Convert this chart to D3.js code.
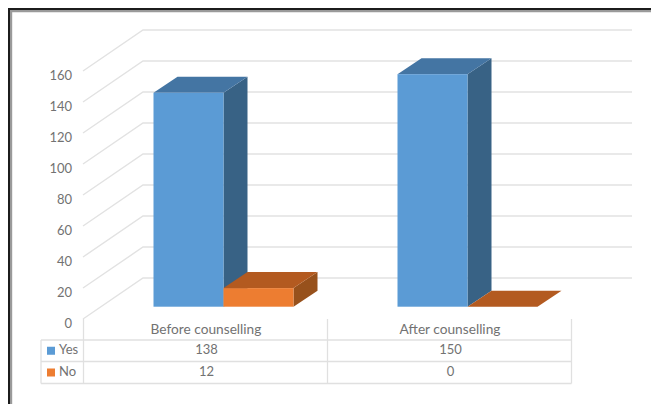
<!DOCTYPE html>
<html>
<head>
<meta charset="utf-8">
<script src="https://cdn.jsdelivr.net/npm/d3@7/dist/d3.min.js"></script>
<style>
html,body{margin:0;padding:0;background:#fff}
svg{display:block}
text{font-family:Lato,"Open Sans",sans-serif;fill:#727272}
</style>
</head>
<body>
<script>
const categories = ["Before counselling", "After counselling"];
const seriesNames = ["Yes", "No"];
const yesValues = [138, 150];
const noValues = [12, 0];
const tickValues = [0, 20, 40, 60, 80, 100, 120, 140, 160];

const seriesColors = {
  Yes: {front: "#5b9bd5", top: "#4475a3", side: "#386285"},
  No: {front: "#ed7d31", top: "#b35a20", side: "#97511c"}
};

const width = 651, height = 404;
const svg = d3.select("body").append("svg").attr("width", width).attr("height", height);

// Oblique projection: the wall sits behind the axis plane by (wallDx, wallDy)
const wallDx = 60, wallDy = -41;
const barOffset = {x: 18, y: -12.3};
const barDepth = {x: 24, y: -16};
const barWidth = 70;

const x = d3.scaleBand().domain(categories).range([83.5, 571.5]);
const y = d3.scaleLinear().domain([0, 160]).range([319, 71]);
const seriesX = d3.scaleBand().domain(seriesNames).range([-barWidth, barWidth]);

// Picture frame
const frame = svg.append("g").attr("fill", "none");
frame.append("path").attr("d", `M11,${height} V11 H${width}`).attr("stroke", "#9a9a9a").attr("stroke-width", 2.4);
frame.append("path").attr("d", `M9,${height} V9 H${width}`).attr("stroke", "#1c1c1c").attr("stroke-width", 2);

// Value axis gridlines running along the floor edge and the back wall
const grid = svg.append("g").attr("fill", "none").attr("stroke", "#e2e2e2").attr("stroke-width", 1.4);
grid.selectAll("path").data(tickValues).join("path")
  .attr("d", d => `M83,${y(d)} L${83 + wallDx},${y(d) + wallDy} H632`);

svg.append("g").selectAll("text").data(tickValues).join("text")
  .attr("x", 72).attr("y", d => y(d) + 6).attr("text-anchor", "end")
  .attr("dominant-baseline", "middle").attr("font-size", 13).text(d => d);

// Draws a box from its front face and the shared depth vector
function box(g, x0, x1, yTop, yBase, c) {
  const d = barDepth;
  g.append("polygon").attr("fill", c.side)
    .attr("points", [[x1, yTop], [x1 + d.x, yTop + d.y], [x1 + d.x, yBase + d.y], [x1, yBase]].join(" "));
  g.append("polygon").attr("fill", c.top)
    .attr("points", [[x0, yTop], [x0 + d.x, yTop + d.y], [x1 + d.x, yTop + d.y], [x1, yTop]].join(" "));
  if (yBase - yTop > 0) {
    g.append("rect").attr("fill", c.front).attr("x", x0).attr("y", yTop)
      .attr("width", x1 - x0).attr("height", yBase - yTop);
  }
}

const values = {Yes: yesValues, No: noValues};
const bars = svg.append("g");
categories.forEach((cat, i) => {
  const cx = x(cat) + x.bandwidth() / 2 + barOffset.x;
  seriesNames.forEach(name => {
    const left = cx + seriesX(name);
    const base = y(0) + barOffset.y;
    const top = y(values[name][i]) + barOffset.y;
    box(bars.append("g"), left, left + seriesX.bandwidth(), top, base, seriesColors[name]);
  });
});

// Data table under the plot
const rowY = [340, 361.5, 383.5];
const tableLeft = 41;
const table = svg.append("g").attr("stroke", "#e0e0e0").attr("stroke-width", 1.3).attr("fill", "none");
rowY.forEach(ry => table.append("line").attr("x1", tableLeft).attr("x2", x.range()[1]).attr("y1", ry).attr("y2", ry));
table.append("line").attr("x1", tableLeft).attr("x2", tableLeft).attr("y1", rowY[0]).attr("y2", rowY[2]);
[x.range()[0], x.range()[0] + x.bandwidth(), x.range()[1]].forEach(vx =>
  table.append("line").attr("x1", vx).attr("x2", vx).attr("y1", 319).attr("y2", rowY[2]));

svg.append("g").selectAll("text").data(categories).join("text")
  .attr("x", d => x(d) + x.bandwidth() / 2 + 0.5).attr("y", 331)
  .attr("text-anchor", "middle").attr("dominant-baseline", "middle").attr("font-size", 13.7).text(d => d);

seriesNames.forEach((name, r) => {
  const cy = (rowY[r] + rowY[r + 1]) / 2;
  svg.append("rect").attr("x", 47).attr("y", cy - 4).attr("width", 8).attr("height", 8).attr("fill", seriesColors[name].front);
  svg.append("text").attr("x", 59).attr("y", cy).attr("dominant-baseline", "middle").attr("font-size", 13).text(name);
  categories.forEach((cat, i) => {
    svg.append("text").attr("x", x(cat) + x.bandwidth() / 2 + 1).attr("y", cy)
      .attr("text-anchor", "middle").attr("dominant-baseline", "middle").attr("font-size", 13).text(values[name][i]);
  });
});
</script>
</body>
</html>
